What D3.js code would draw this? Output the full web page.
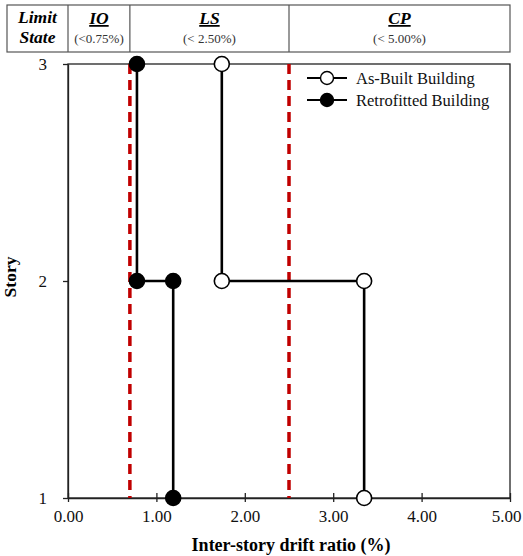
<!DOCTYPE html>
<html>
<head>
<meta charset="utf-8">
<script src="https://cdn.jsdelivr.net/npm/d3@7"></script>
<style>
  body { margin: 0; background: #fff; }
  svg { font-family: "Liberation Serif", "Times New Roman", serif; }
</style>
</head>
<body>
<div id="chart"></div>
<script>
// story levels and drift ratios (%)
var stories = [3, 2, 2, 1];
var asBuilt = [1.74, 1.74, 3.35, 3.35];
var retrofitted = [0.78, 0.78, 1.19, 1.19];
var limitValues = [0.70, 2.50];
var xTicks = [0, 1, 2, 3, 4, 5];
var yTicks = [1, 2, 3];
var limitNames = ["IO", "LS", "CP"];
var limitLabels = ["(<0.75%)", "(< 2.50%)", "(< 5.00%)"];
var limitEdges = [0, 0.70, 2.50, 5.00];

var W = 523, H = 556;
var margin = {top: 64, right: 13, bottom: 58, left: 68};
var width = W - margin.left - margin.right;
var height = H - margin.top - margin.bottom;

var svg = d3.select("#chart").append("svg")
  .attr("width", W).attr("height", H);

var x = d3.scaleLinear().domain([0, 5]).range([margin.left, margin.left + width]);
var y = d3.scaleLinear().domain([1, 3]).range([margin.top + height, margin.top]);

// limit state table on top
var tTop = 5, tBot = 52, tLeft = 7;
var tbl = svg.append("g").attr("class", "table");
tbl.append("rect")
  .attr("x", tLeft).attr("y", tTop)
  .attr("width", x(5) - tLeft).attr("height", tBot - tTop)
  .attr("fill", "none").attr("stroke", "#555").attr("stroke-width", 1.2);
for (var i = 0; i < limitEdges.length - 1; i++) {
  tbl.append("line")
    .attr("x1", x(limitEdges[i])).attr("x2", x(limitEdges[i]))
    .attr("y1", tTop).attr("y2", tBot)
    .attr("stroke", "#555").attr("stroke-width", 1.2);
  var cx = (x(limitEdges[i]) + x(limitEdges[i + 1])) / 2;
  tbl.append("text")
    .attr("x", cx).attr("y", 24)
    .attr("text-anchor", "middle")
    .style("font-size", "17.5px").style("font-weight", "bold").style("font-style", "italic")
    .style("text-decoration", "underline")
    .text(limitNames[i]);
  tbl.append("text")
    .attr("x", cx).attr("y", 43)
    .attr("text-anchor", "middle")
    .style("font-size", "13px").attr("fill", "#333")
    .text(limitLabels[i]);
}
tbl.append("text").attr("x", (tLeft + x(0)) / 2).attr("y", 23)
  .attr("text-anchor", "middle")
  .style("font-size", "17.5px").style("font-weight", "bold").style("font-style", "italic")
  .text("Limit");
tbl.append("text").attr("x", (tLeft + x(0)) / 2).attr("y", 43)
  .attr("text-anchor", "middle")
  .style("font-size", "17.5px").style("font-weight", "bold").style("font-style", "italic")
  .text("State");

// plot frame
svg.append("rect")
  .attr("x", margin.left).attr("y", margin.top)
  .attr("width", width).attr("height", height)
  .attr("fill", "none").attr("stroke", "#222").attr("stroke-width", 1.3);

// axes
var xAxis = d3.axisBottom(x).tickValues(xTicks).tickFormat(d3.format(".2f"))
  .tickSizeInner(-5).tickSizeOuter(0).tickPadding(12);
var gx = svg.append("g")
  .attr("transform", "translate(0," + (margin.top + height) + ")")
  .call(xAxis);
gx.selectAll(".tick line").attr("y1", 4).attr("y2", -5);
var yAxis = d3.axisLeft(y).tickValues(yTicks).tickFormat(d3.format("d"))
  .tickSizeInner(5).tickSizeOuter(0).tickPadding(16);
var gy = svg.append("g")
  .attr("transform", "translate(" + margin.left + ",0)")
  .call(yAxis);
[gx, gy].forEach(function (g) {
  g.select(".domain").attr("stroke", "#222").attr("stroke-width", 1.3);
  g.selectAll(".tick line").attr("stroke", "#222").attr("stroke-width", 1.3);
  g.selectAll(".tick text").attr("fill", "#111")
    .style("font-family", "Liberation Serif").style("font-size", "17px");
});
// keep the last tick label inside the page
gx.selectAll(".tick text").filter(function (d) { return d === 5; })
  .attr("text-anchor", "end").attr("dx", 11);

svg.append("text")
  .attr("x", margin.left + width / 2 + 2).attr("y", 551)
  .attr("text-anchor", "middle")
  .style("font-size", "18px").style("font-weight", "bold")
  .text("Inter-story drift ratio (%)");
svg.append("text")
  .attr("transform", "translate(16," + (margin.top + height / 2 - 4) + ") rotate(-90)")
  .attr("text-anchor", "middle")
  .style("font-size", "17.5px").style("font-weight", "bold")
  .text("Story");

// limit state lines
svg.selectAll(".limit").data(limitValues).enter().append("line")
  .attr("class", "limit")
  .attr("x1", function (d) { return x(d); }).attr("x2", function (d) { return x(d); })
  .attr("y1", margin.top).attr("y2", margin.top + height)
  .attr("stroke", "#c00000").attr("stroke-width", 3.5)
  .attr("stroke-dasharray", "10,6");

var line = d3.line()
  .x(function (d) { return x(d[0]); })
  .y(function (d) { return y(d[1]); });

function drawSeries(vals, fill) {
  var pts = vals.map(function (v, i) { return [v, stories[i]]; });
  svg.append("path").datum(pts)
    .attr("d", line).attr("fill", "none")
    .attr("stroke", "#000").attr("stroke-width", 2.6);
  svg.selectAll(null).data(pts).enter().append("circle")
    .attr("cx", function (d) { return x(d[0]); })
    .attr("cy", function (d) { return y(d[1]); })
    .attr("r", 7.5)
    .attr("fill", fill).attr("stroke", "#000").attr("stroke-width", 1.6);
}
drawSeries(asBuilt, "#fff");
drawSeries(retrofitted, "#000");

// legend
var legend = [["As-Built Building", "#fff"], ["Retrofitted Building", "#000"]];
legend.forEach(function (d, i) {
  var ly = 78 + i * 22;
  svg.append("line").attr("x1", 307).attr("x2", 347).attr("y1", ly).attr("y2", ly)
    .attr("stroke", "#000").attr("stroke-width", 2);
  svg.append("circle").attr("cx", 327).attr("cy", ly).attr("r", 6.5)
    .attr("fill", d[1]).attr("stroke", "#000").attr("stroke-width", 1.4);
  svg.append("text").attr("x", 356).attr("y", ly + 5.5)
    .style("font-size", "16.5px").attr("fill", "#111")
    .text(d[0]);
});
</script>
</body>
</html>
